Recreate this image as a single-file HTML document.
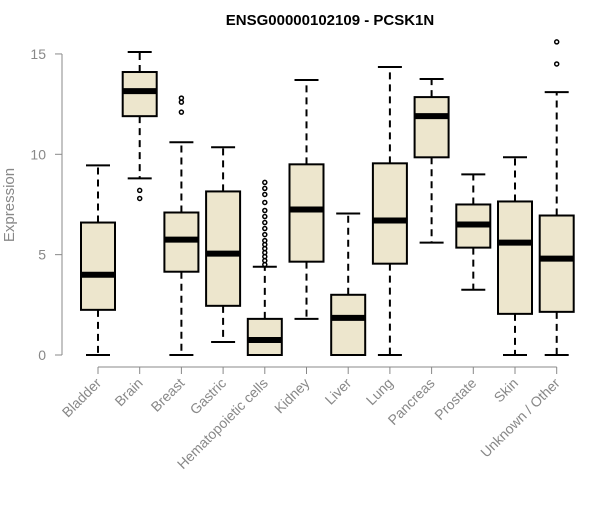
<!DOCTYPE html>
<html><head><meta charset="utf-8"><style>
body{margin:0;background:#fff;font-family:"Liberation Sans",Arial,sans-serif}
</style></head><body>
<svg id="c" width="600" height="500" xmlns="http://www.w3.org/2000/svg">
<text x="330" y="25" text-anchor="middle" font-weight="bold" font-size="15" fill="#000">ENSG00000102109 - PCSK1N</text>
<text transform="translate(14,205) rotate(-90)" text-anchor="middle" font-size="15" fill="#888">Expression</text>
</svg>
<script>
const categories=["Bladder","Brain","Breast","Gastric","Hematopoietic cells","Kidney","Liver","Lung","Pancreas","Prostate","Skin","Unknown / Other"];
const mins=[0,8.8,0,0.65,0,1.8,0,0,5.6,3.25,0,0];
const q1s=[2.25,11.9,4.15,2.45,0,4.65,0,4.55,9.85,5.35,2.05,2.15];
const medians=[4.0,13.15,5.75,5.05,0.75,7.25,1.85,6.7,11.9,6.5,5.6,4.8];
const q3s=[6.6,14.1,7.1,8.15,1.8,9.5,3.0,9.55,12.85,7.5,7.65,6.95];
const maxs=[9.45,15.1,10.6,10.35,4.4,13.7,7.05,14.35,13.75,9.0,9.85,13.1];
const outliers=[[],[7.8,8.2],[12.1,12.6,12.8],[],[4.5,4.7,4.9,5.1,5.3,5.5,5.7,6.0,6.3,6.6,6.9,7.2,7.6,8.0,8.3,8.6],[],[],[],[],[],[],[14.5,15.6]];
const yTicks=[0,5,10,15];
const svg=document.getElementById('c');
const NS='http://www.w3.org/2000/svg';
const y=v=>355-v*20.07;
const x=i=>98+i*41.7;
function mk(t,a){const e=document.createElementNS(NS,t);for(const k in a)e.setAttribute(k,a[k]);svg.appendChild(e);return e;}
let ax=mk('line',{x1:62,x2:62,y1:y(0),y2:y(15),stroke:'#888'});


yTicks.forEach(t=>{
 let l=mk('line',{x1:55,x2:62,y1:y(t),y2:y(t),stroke:'#888'});
 
 
 let tx=mk('text',{x:46,y:y(t)+5,'text-anchor':'end','font-size':14,fill:'#888'});
 tx.textContent=t;
 
 
});
let xa=mk('line',{x1:x(0),x2:x(11),y1:367,y2:367,stroke:'#888'});


categories.forEach((c,i)=>{
 const cx=x(i);
 let tk=mk('line',{x1:cx,x2:cx,y1:367,y2:374,stroke:'#888'});
 
 
 let lb=mk('text',{x:cx+4,y:384,'text-anchor':'end','font-size':14,fill:'#888',transform:`rotate(-45 ${cx+4} 384)`});
 lb.textContent=c;
 
 
 const g=mk('g',{});
 
 
 const add=(t,a)=>{const e=document.createElementNS(NS,t);for(const k in a)e.setAttribute(k,a[k]);g.appendChild(e);return e;};
 add('line',{x1:cx,x2:cx,y1:y(q3s[i]),y2:y(maxs[i]),stroke:'#000','stroke-width':2,'stroke-dasharray':'7,5'});
 add('line',{x1:cx,x2:cx,y1:y(q1s[i]),y2:y(mins[i]),stroke:'#000','stroke-width':2,'stroke-dasharray':'7,5'});
 add('line',{x1:cx-12,x2:cx+12,y1:y(maxs[i]),y2:y(maxs[i]),stroke:'#000','stroke-width':2});
 add('line',{x1:cx-12,x2:cx+12,y1:y(mins[i]),y2:y(mins[i]),stroke:'#000','stroke-width':2});
 add('rect',{x:cx-17,y:y(q3s[i]),width:34,height:Math.max(1,y(q1s[i])-y(q3s[i])),fill:'#ede6cd',stroke:'#000','stroke-width':2});
 add('line',{x1:cx-17,x2:cx+17,y1:y(medians[i]),y2:y(medians[i]),stroke:'#000','stroke-width':6});
 outliers[i].forEach(o=>add('circle',{cx:cx,cy:y(o),r:2,fill:'none',stroke:'#000','stroke-width':1.5}));
});
</script>
</body></html>
